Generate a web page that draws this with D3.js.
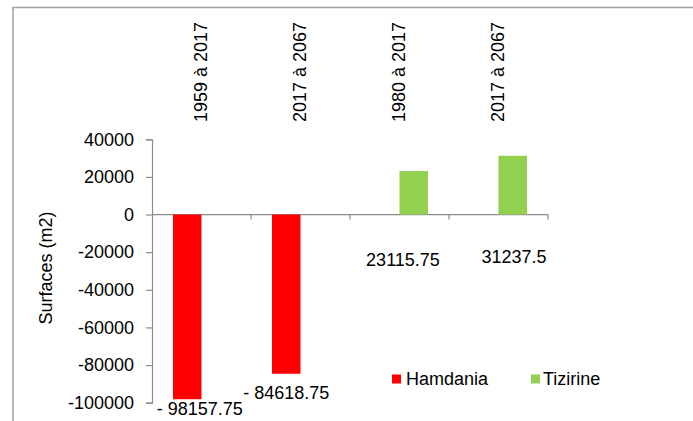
<!DOCTYPE html>
<html>
<head>
<meta charset="utf-8">
<script src="https://cdn.jsdelivr.net/npm/d3@7"></script>
<style>
  html, body { margin: 0; padding: 0; background: #fff; }
  svg { display: block; font-family: "Liberation Sans", Arial, sans-serif; }
</style>
</head>
<body>
<svg id="chart" width="693" height="421"></svg>
<script>
// Periods compared for each site
const categories = ["1959 à 2017", "2017 à 2067", "1980 à 2017", "2017 à 2067 "];
const seriesNames = ["Hamdania", "Tizirine"];
// Surface change (m2) per period; null where the site has no value
const hamdania = [-98157.75, -84618.75, null, null];
const tizirine = [null, null, 23115.75, 31237.5];
const yTicks = [40000, 20000, 0, -20000, -40000, -60000, -80000, -100000];
const colors = { Hamdania: "#ff0000", Tizirine: "#92d050" };

// Hand-placed data label nudges (px), relative to the end of each bar
const labelNudge = [[12.5, 10], [0, 19.5], [-10.75, null], [1.25, null]];

const svg = d3.select("#chart");

// Outer frame (top and left edges)
svg.append("path")
  .attr("d", "M13,421 V7.5 H693")
  .attr("fill", "none")
  .attr("stroke", "#a0a0a0")
  .attr("stroke-width", 1.5);

const y = d3.scaleLinear().domain([-100000, 40000]).range([402.7, 139.3]);
const x = d3.scaleBand().domain(categories).range([152, 548]).paddingInner(0).paddingOuter(0);
const xs = d3.scaleBand().domain(seriesNames).range([0, x.bandwidth()]).paddingInner(0).paddingOuter(0.737);

const axisColor = "#8c8c8c";

// Y axis (plain hyphen for negatives)
const yAxis = svg.append("g")
  .attr("transform", "translate(152,0)")
  .call(d3.axisLeft(y).tickValues(yTicks).tickSize(6).tickPadding(12).tickFormat(d => String(d)));
yAxis.select(".domain").attr("stroke", axisColor).attr("stroke-width", 1.2);
yAxis.selectAll(".tick line").attr("stroke", axisColor).attr("stroke-width", 1.2);
yAxis.selectAll(".tick text")
  .attr("font-size", 18)
  .attr("fill", "#000")
  .attr("font-family", "Liberation Sans, Arial, sans-serif");

// Category axis along zero
const xAxis = svg.append("g")
  .attr("transform", `translate(0,${y(0)})`);
xAxis.append("line")
  .attr("x1", x.range()[0]).attr("x2", x.range()[1])
  .attr("stroke", axisColor).attr("stroke-width", 1.2);
const boundaries = categories.map(c => x(c) + x.bandwidth());
xAxis.selectAll("line.tk").data(boundaries).join("line")
  .attr("class", "tk")
  .attr("x1", d => d).attr("x2", d => d)
  .attr("y1", 0).attr("y2", 5)
  .attr("stroke", axisColor).attr("stroke-width", 1.2);

// Rotated category labels at the top
svg.selectAll("text.cat").data(categories).join("text")
  .attr("class", "cat")
  .attr("transform", d => `translate(${x(d) + x.bandwidth() / 2 - 1},122) rotate(-90)`)
  .attr("dominant-baseline", "central")
  .attr("text-anchor", "start")
  .attr("font-size", 18)
  .attr("fill", "#000")
  .text(d => d.trim());

// Y axis title
svg.append("text")
  .attr("transform", "translate(46,268) rotate(-90)")
  .attr("text-anchor", "middle")
  .attr("dominant-baseline", "central")
  .attr("font-size", 18)
  .attr("fill", "#000")
  .text("Surfaces (m2)");

// Bars
const rows = categories.map((c, i) => ({ cat: c, i, values: { Hamdania: hamdania[i], Tizirine: tizirine[i] } }));
const bars = [];
rows.forEach(r => seriesNames.forEach(s => {
  if (r.values[s] != null) bars.push({ cat: r.cat, i: r.i, series: s, value: r.values[s] });
}));

svg.append("g").selectAll("rect").data(bars).join("rect")
  .attr("x", d => x(d.cat) + xs(d.series))
  .attr("width", xs.bandwidth())
  .attr("y", d => Math.min(y(d.value), y(0)))
  .attr("height", d => Math.abs(y(d.value) - y(0)))
  .attr("fill", d => colors[d.series]);

// Data labels
const fmt = v => v < 0 ? "- " + Math.abs(v) : String(v);
svg.append("g").selectAll("text").data(bars).join("text")
  .attr("x", d => x(d.cat) + xs(d.series) + xs.bandwidth() / 2 + labelNudge[d.i][0])
  .attr("y", d => {
    const n = labelNudge[d.i][1];
    return n != null ? y(d.value) + n : y(0) + (d.i === 2 ? 45.7 : 42.4);
  })
  .attr("text-anchor", "middle")
  .attr("dominant-baseline", "central")
  .attr("font-size", 18)
  .attr("fill", "#000")
  .text(d => fmt(d.value));

// Legend
const legend = svg.append("g").attr("transform", "translate(392,379)");
const legendX = [0, 139];
const textGap = [14, 12];
seriesNames.forEach((s, i) => {
  const g = legend.append("g").attr("transform", `translate(${legendX[i]},0)`);
  g.append("rect").attr("x", 0).attr("y", -4.5).attr("width", 9).attr("height", 9).attr("fill", colors[s]);
  g.append("text")
    .attr("x", textGap[i])
    .attr("dominant-baseline", "central")
    .attr("font-size", 18)
    .attr("fill", "#000")
    .text(s);
});
</script>
</body>
</html>
